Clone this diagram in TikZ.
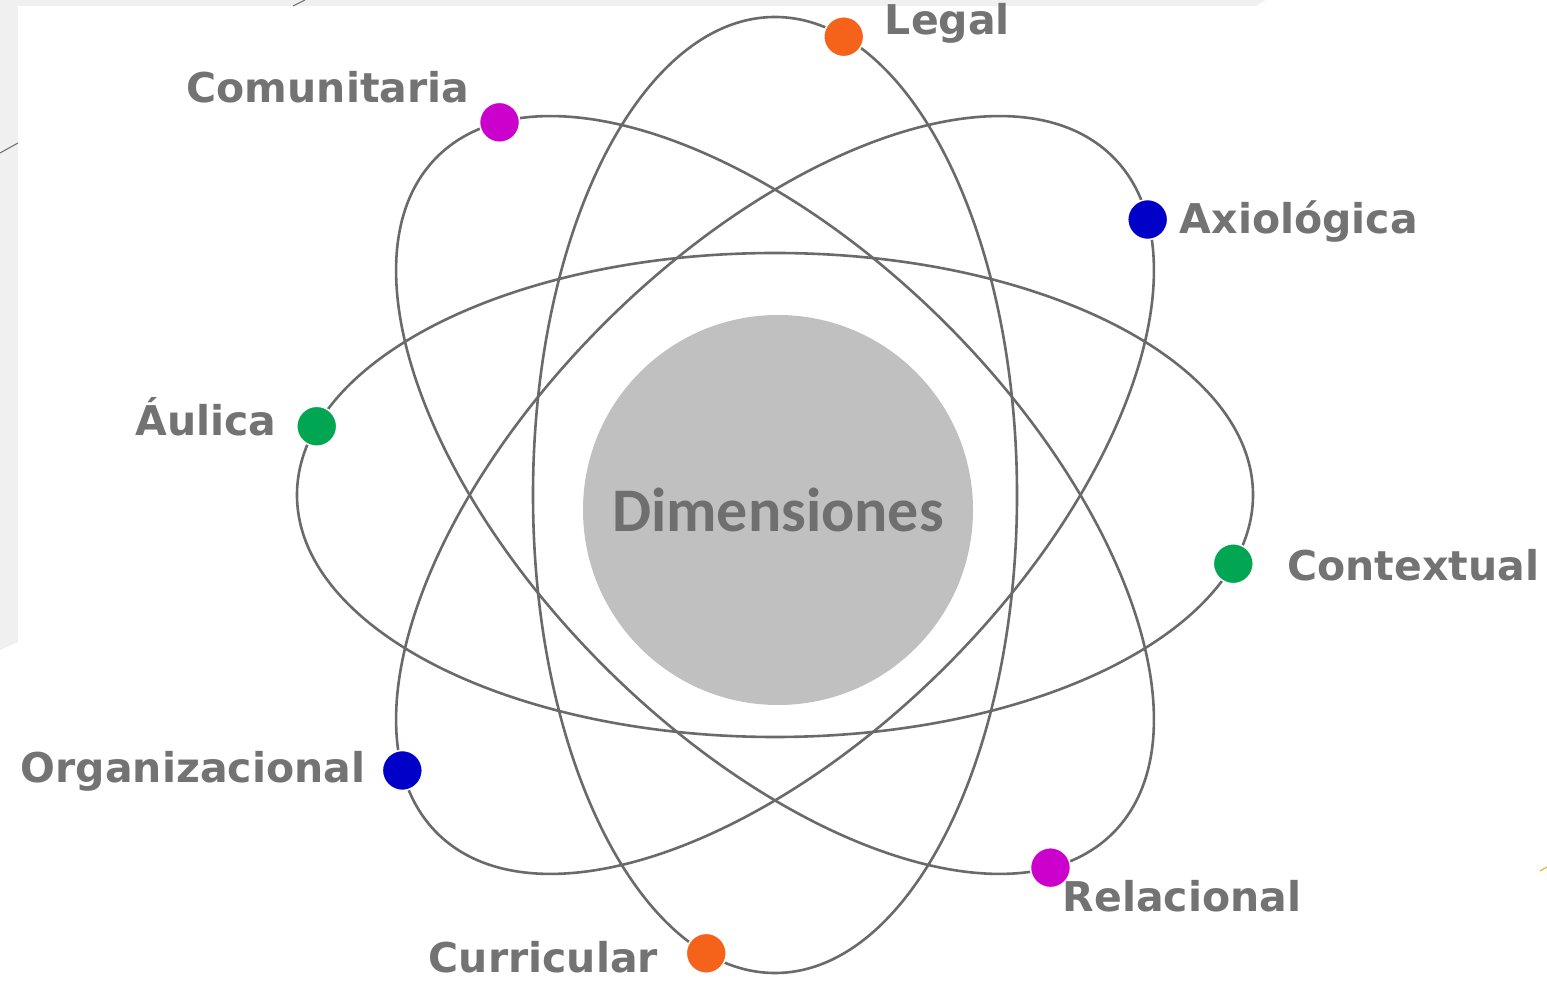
\documentclass[tikz,border=0pt]{standalone}
\usepackage{fontspec}
\setmainfont{DejaVu Sans}
\newfontfamily\corefont{Carlito}
\usepackage{tikz}
\usepackage{xcolor}
\usetikzlibrary{positioning}
\definecolor{orbitgray}{HTML}{6A6A6A}
\definecolor{labelgray}{HTML}{737373}
\definecolor{coregray}{HTML}{C0C0C0}
\definecolor{coretext}{HTML}{6F6F6F}
\definecolor{slidegray}{HTML}{F0F0F0}
\definecolor{dotorange}{HTML}{F5631A}
\definecolor{dotmagenta}{HTML}{CC00CC}
\definecolor{dotblue}{HTML}{0000C8}
\definecolor{dotgreen}{HTML}{00A651}
\definecolor{slideorange}{HTML}{F0A800}
\tikzset{
    orbit-line/.style = {draw=orbitgray, line width=2.6pt},
    dim-dot/.style = {circle, draw=white, line width=1.5pt, inner sep=0pt, minimum size=40pt},
    dim-label/.style = {text=labelgray, inner sep=0pt, font=\fontsize{41}{41}\selectfont\bfseries},
    core-circle/.style = {circle, fill=coregray, minimum size=390pt, text=coretext, font=\corefont\fontsize{62}{62}\selectfont\bfseries},
}
\begin{document}
\begin{tikzpicture}[x=1pt, y=1pt]
\useasboundingbox (0,0) rectangle (1547,980);
\fill[white] (0,0) rectangle (1547,980);
\fill[slidegray] (0,980) -- (1266,980) -- (1256,974) -- (18,974) -- (18,338) -- (0,330) -- cycle;
\draw[orbitgray, line width=1pt] (0,827) -- (18,837);
\draw[orbitgray, line width=1pt] (293,974) -- (305,980);
\draw[slideorange, line width=1pt] (1540,109) -- (1547,113);

\coordinate (hub) at (775,485);
\foreach \r in {0,45,90,-45}
    \draw[orbit-line, rotate around={\r:(hub)}] (hub) ellipse [x radius=478pt, y radius=242pt];

\node[core-circle] (dim) at (778,470) {Dimensiones};

\begin{scope}[shift={(hub)}]
\node[dim-dot, fill=dotgreen] (aulica) at (163.5:478pt and 242pt) {};
\node[dim-dot, fill=dotgreen] (contextual) at (-16.5:478pt and 242pt) {};
\end{scope}
\begin{scope}[shift={(hub)}, rotate=90]
\node[dim-dot, fill=dotorange] (legal) at (-16.5:478pt and 242pt) {};
\node[dim-dot, fill=dotorange] (curricular) at (163.5:478pt and 242pt) {};
\end{scope}
\begin{scope}[shift={(hub)}, rotate=45]
\node[dim-dot, fill=dotblue] (axiologica) at (-16.5:478pt and 242pt) {};
\node[dim-dot, fill=dotblue] (organizacional) at (163.5:478pt and 242pt) {};
\end{scope}
\begin{scope}[shift={(hub)}, rotate=-45]
\node[dim-dot, fill=dotmagenta] (comunitaria) at (163.5:478pt and 242pt) {};
\node[dim-dot, fill=dotmagenta] (relacional) at (-16.5:478pt and 242pt) {};
\end{scope}

\node[dim-label, anchor=base west] at ([shift={(41,2)}]legal) {Legal};
\node[dim-label, anchor=base east] at ([shift={(-30,20)}]comunitaria) {Comunitaria};
\node[dim-label, anchor=base west] at ([shift={(32,-14)}]axiologica) {Axiológica};
\node[dim-label, anchor=base east] at ([shift={(-40,-9)}]aulica) {Áulica};
\node[dim-label, anchor=base west] at ([shift={(54,-17)}]contextual) {Contextual};
\node[dim-label, anchor=base east] at ([shift={(-37,-12)}]organizacional) {Organizacional};
\node[dim-label, anchor=base west] at ([shift={(12,-44)}]relacional) {Relacional};
\node[dim-label, anchor=base east] at ([shift={(-48,-19)}]curricular) {Curricular};
\end{tikzpicture}
\end{document}
